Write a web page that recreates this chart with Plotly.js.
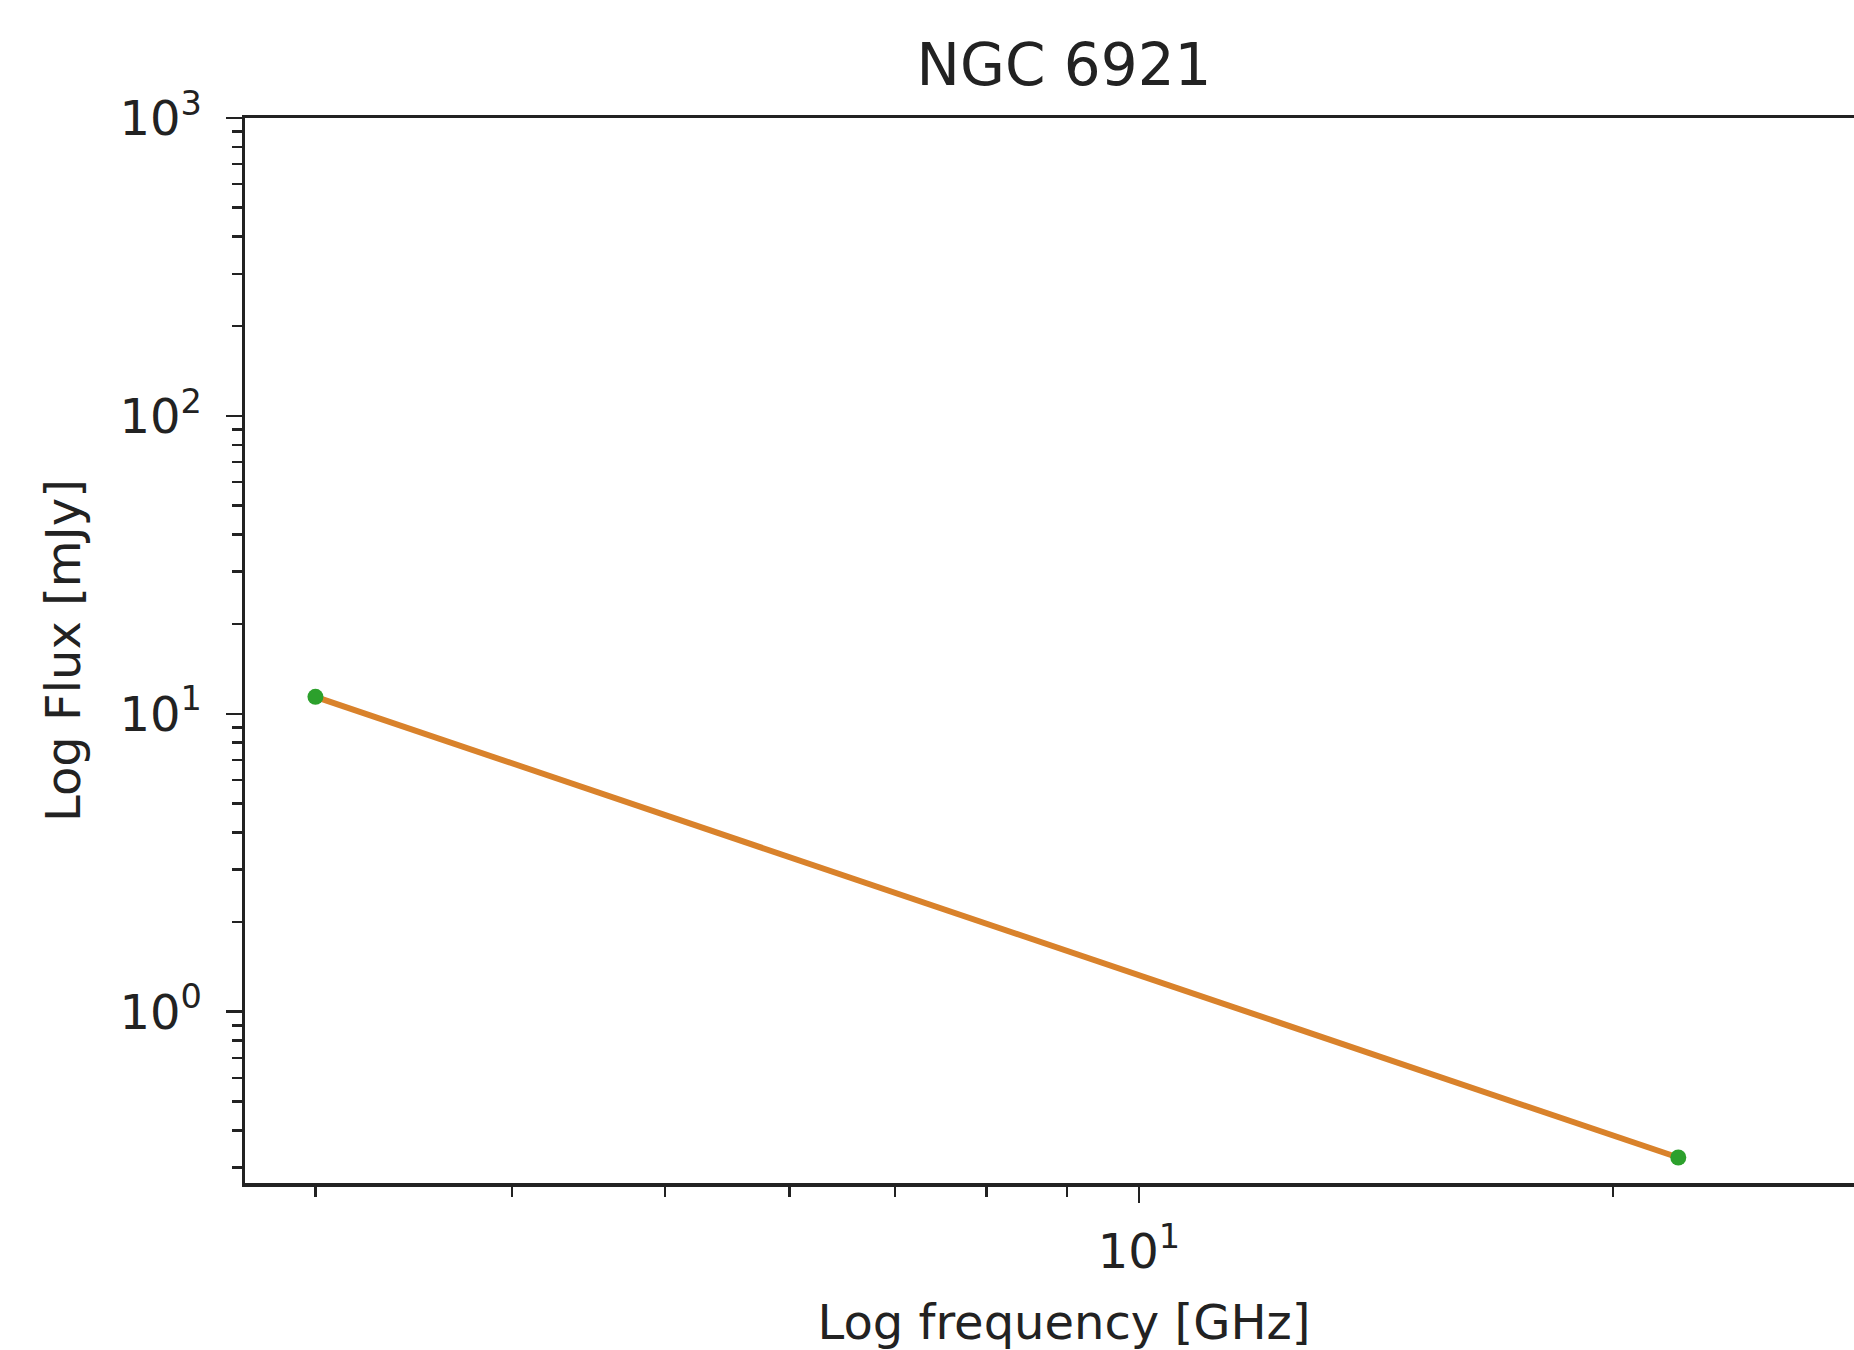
<!DOCTYPE html>
<html>
<head>
<meta charset="utf-8">
<script src="https://cdn.plot.ly/plotly-3.0.1.min.js"></script>
<style>html,body{margin:0;padding:0;background:#fff;overflow:hidden;width:1854px;height:1350px;}</style>
</head>
<body>
<div id="chart" style="width:1883px;height:1350px;"></div>
<script>
// Data
const frequencyGHz = [3, 22];
const fluxMJy = [11.4, 0.324];

// Tick definitions
const xMajorTicks = [10];
const xMajorText = ['10<sup>1</sup>'];
const xMinorTicks = [3, 4, 5, 6, 7, 8, 9, 20];
const yMajorTicks = [1, 10, 100, 1000];
const yMajorText = ['10<sup>0</sup>', '10<sup>1</sup>', '10<sup>2</sup>', '10<sup>3</sup>'];
const yMinorTicks = [0.3, 0.4, 0.5, 0.6, 0.7, 0.8, 0.9,
  2, 3, 4, 5, 6, 7, 8, 9,
  20, 30, 40, 50, 60, 70, 80, 90,
  200, 300, 400, 500, 600, 700, 800, 900];

const ink = '#222222';

const traces = [
  {
    x: frequencyGHz, y: fluxMJy, type: 'scatter', mode: 'lines',
    line: {color: '#d9822b', width: 6}, hoverinfo: 'skip', showlegend: false
  },
  {
    x: frequencyGHz, y: fluxMJy, type: 'scatter', mode: 'markers',
    marker: {color: '#2ca02c', size: 16}, showlegend: false
  }
];

const layout = {
  width: 1883, height: 1350,
  margin: {l: 245, r: 0, t: 118, b: 167, pad: 0},
  paper_bgcolor: '#ffffff', plot_bgcolor: '#ffffff',
  font: {family: 'DejaVu Sans', color: ink, size: 48},
  showlegend: false,
  title: {
    text: 'NGC 6921', font: {family: 'DejaVu Sans', size: 58, color: ink},
    xref: 'paper', x: 0.5, xanchor: 'center',
    yref: 'container', y: 1 - 65 / 1350, yanchor: 'middle'
  },
  xaxis: {
    type: 'log', range: [0.4324, 1.4724], autorange: false,
    showgrid: false, zeroline: false,
    showline: true, linecolor: ink, linewidth: 3.5, mirror: true,
    ticks: 'outside', ticklen: 16, tickwidth: 2.5, tickcolor: ink,
    tickmode: 'array', tickvals: xMajorTicks, ticktext: xMajorText,
    tickfont: {family: 'DejaVu Sans', size: 48, color: ink},
    ticklabelstandoff: 8,
    minor: {tickmode: 'array', tickvals: xMinorTicks, ticks: 'outside', ticklen: 10, tickwidth: 2.5, tickcolor: ink, showgrid: false},
    title: {text: 'Log frequency [GHz]', font: {family: 'DejaVu Sans', size: 48, color: ink}, standoff: 30},
    automargin: false
  },
  yaxis: {
    type: 'log', range: [-0.575, 3], autorange: false,
    showgrid: false, zeroline: false,
    showline: true, linecolor: ink, linewidth: 3.5, mirror: false,
    ticks: 'outside', ticklen: 16, tickwidth: 2.5, tickcolor: ink,
    tickmode: 'array', tickvals: yMajorTicks, ticktext: yMajorText,
    tickfont: {family: 'DejaVu Sans', size: 48, color: ink},
    ticklabelstandoff: 14,
    minor: {tickmode: 'array', tickvals: yMinorTicks, ticks: 'outside', ticklen: 10, tickwidth: 2.5, tickcolor: ink, showgrid: false},
    title: {text: 'Log Flux [mJy]', font: {family: 'DejaVu Sans', size: 48, color: ink}, standoff: 24},
    automargin: false
  }
};

Plotly.newPlot('chart', traces, layout, {displayModeBar: false, staticPlot: true});
</script>
</body>
</html>
